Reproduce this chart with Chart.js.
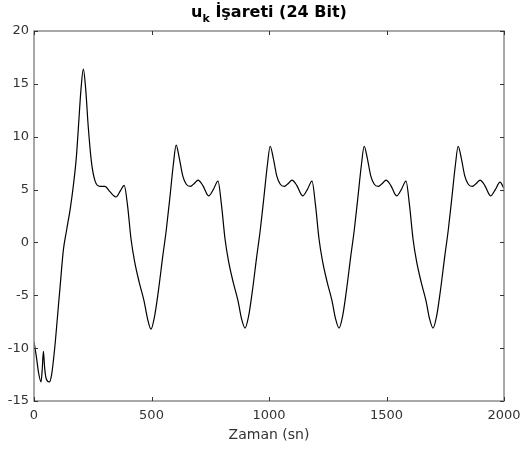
<!DOCTYPE html>
<html>
<head>
<meta charset="utf-8">
<script src="https://cdn.jsdelivr.net/npm/chart.js@4"></script>
<style>
  body { margin: 0; background: #fff; }
  #wrap { width: 522px; height: 450px; }
</style>
</head>
<body>
<div id="wrap"><canvas id="ukChart" width="522" height="450"></canvas></div>
<script>
// time axis (sn) and signal values
const zaman = [
    0, 10, 20, 30, 35, 40, 45, 52, 65, 75, 89, 100, 111, 125, 139, 155, 167, 180, 189, 200,
    210, 220, 231, 245, 260, 281, 302, 323, 349, 368, 384, 398, 413, 428, 448, 468, 483, 498,
    513, 528, 548, 563, 578, 593, 605, 618, 633, 648, 665, 683, 698, 718, 743, 763, 783,
    798, 813, 828, 848, 868, 883, 898,
    913, 928, 948, 963, 978, 993, 1005, 1018, 1033, 1048, 1065, 1083, 1098, 1118, 1143, 1163, 1183,
    1198, 1213, 1228, 1248, 1268, 1283, 1298,
    1313, 1328, 1348, 1363, 1378, 1393, 1405, 1418, 1433, 1448, 1465, 1483, 1498, 1518, 1543, 1563, 1583,
    1598, 1613, 1628, 1648, 1668, 1683, 1698,
    1713, 1728, 1748, 1763, 1778, 1793, 1805, 1818, 1833, 1848, 1865, 1883, 1898, 1918, 1943, 1963, 1983,
    2000
];
const uk = [
    -9.4, -10.8, -12.4, -13.2, -12.0, -10.3, -11.8, -12.9, -13.2, -12.5, -9.8, -7.0, -4.2, -0.7, 1.2, 3.3, 5.3, 8.0, 10.9, 14.5,
    16.4, 14.5, 10.9, 7.5, 5.8, 5.3, 5.3, 4.8, 4.3, 4.9, 5.4, 3.5, 0.3, -1.8, -3.8, -5.5, -7.2, -8.2,
    -7.0, -4.8, -1.3, 1.2, 4.2, 7.4, 9.2, 8.0, 6.3, 5.5, 5.3, 5.6, 5.9, 5.4, 4.4, 5.0, 5.8,
    3.5, 0.3, -1.8, -3.8, -5.5, -7.2, -8.1,
    -7.0, -4.8, -1.3, 1.2, 4.2, 7.3, 9.1, 8.0, 6.3, 5.5, 5.3, 5.6, 5.9, 5.4, 4.4, 5.0, 5.8,
    3.5, 0.3, -1.8, -3.8, -5.5, -7.2, -8.1,
    -7.0, -4.8, -1.3, 1.2, 4.2, 7.3, 9.1, 8.0, 6.3, 5.5, 5.3, 5.6, 5.9, 5.4, 4.4, 5.0, 5.8,
    3.5, 0.3, -1.8, -3.8, -5.5, -7.2, -8.1,
    -7.0, -4.8, -1.3, 1.2, 4.2, 7.3, 9.1, 8.0, 6.3, 5.5, 5.3, 5.6, 5.9, 5.4, 4.4, 5.0, 5.7,
    5.1
];
const xTicks = [0, 500, 1000, 1500, 2000];
const yTicks = [-15, -10, -5, 0, 5, 10, 15, 20];

const FONT = "'DejaVu Sans', sans-serif";

// draws the box, inward ticks and the title with its subscript
const frameAndTitle = {
    id: 'frameAndTitle',
    afterDraw(chart) {
        const ctx = chart.ctx;
        const a = chart.chartArea;
        const xs = chart.scales.x, ys = chart.scales.y;
        ctx.save();
        ctx.strokeStyle = '#8c8c8c';
        ctx.lineWidth = 1.5;
        ctx.strokeRect(a.left, a.top, a.right - a.left, a.bottom - a.top);
        ctx.lineWidth = 1;
        ctx.strokeStyle = '#333';
        ctx.beginPath();
        xTicks.forEach(v => {
            const p = Math.round(xs.getPixelForValue(v)) + 0.5;
            ctx.moveTo(p, a.bottom); ctx.lineTo(p, a.bottom - 4);
            ctx.moveTo(p, a.top); ctx.lineTo(p, a.top + 4);
        });
        yTicks.forEach(v => {
            const p = Math.round(ys.getPixelForValue(v)) + 0.5;
            ctx.moveTo(a.left, p); ctx.lineTo(a.left + 4, p);
            ctx.moveTo(a.right, p); ctx.lineTo(a.right - 4, p);
        });
        ctx.stroke();

        // title: u_k İşareti (24 Bit)
        const big = 'bold 16px ' + FONT, small = 'bold 11px ' + FONT;
        ctx.fillStyle = '#000';
        ctx.textBaseline = 'alphabetic';
        ctx.font = big;
        const wU = ctx.measureText('u').width;
        const rest = ' İşareti (24 Bit)';
        const wR = ctx.measureText(rest).width;
        ctx.font = small;
        const wK = ctx.measureText('k').width;
        const total = wU + wK + wR;
        let x = (a.left + a.right) / 2 - total / 2;
        const base = 17;
        ctx.textAlign = 'left';
        ctx.font = big;
        ctx.fillText('u', x, base);
        x += wU;
        ctx.font = small;
        ctx.fillText('k', x, base + 5);
        x += wK;
        ctx.font = big;
        ctx.fillText(rest, x, base);
        ctx.restore();
    }
};

const ctx = document.getElementById('ukChart').getContext('2d');
const ukChart = new Chart(ctx, {
    type: 'line',
    data: {
        datasets: [{
            label: 'u_k',
            data: zaman.map((t, i) => ({ x: t, y: uk[i] })),
            borderColor: '#000',
            borderWidth: 1.2,
            pointRadius: 0,
            fill: false,
            cubicInterpolationMode: 'monotone'
        }]
    },
    options: {
        responsive: false,
        animation: false,
        layout: { padding: { top: 31, right: 18, left: 0, bottom: 0 } },
        plugins: {
            legend: { display: false },
            title: { display: false },
            tooltip: { enabled: false }
        },
        scales: {
            x: {
                type: 'linear',
                min: 0,
                max: 2000,
                afterBuildTicks: s => { s.ticks = xTicks.map(v => ({ value: v })); },
                afterFit: s => { s.height = 49; s.paddingLeft = 0; s.paddingRight = 0; },
                grid: { display: false, drawTicks: false },
                border: { display: false },
                ticks: {
                    color: '#333', padding: 7, maxRotation: 0,
                    font: { family: FONT, size: 13 },
                    callback: v => String(v)
                },
                title: {
                    display: true,
                    text: 'Zaman (sn)',
                    color: '#333',
                    padding: { top: 0, bottom: 6 },
                    font: { family: FONT, size: 14 }
                }
            },
            y: {
                type: 'linear',
                min: -15,
                max: 20,
                afterBuildTicks: s => { s.ticks = yTicks.map(v => ({ value: v })); },
                afterFit: s => { s.width = 34; s.paddingTop = 0; s.paddingBottom = 0; },
                grid: { display: false, drawTicks: false },
                border: { display: false },
                ticks: {
                    color: '#333', padding: 5,
                    font: { family: FONT, size: 13 },
                    callback: v => String(v)
                }
            }
        }
    },
    plugins: [frameAndTitle]
});
</script>
</body>
</html>
